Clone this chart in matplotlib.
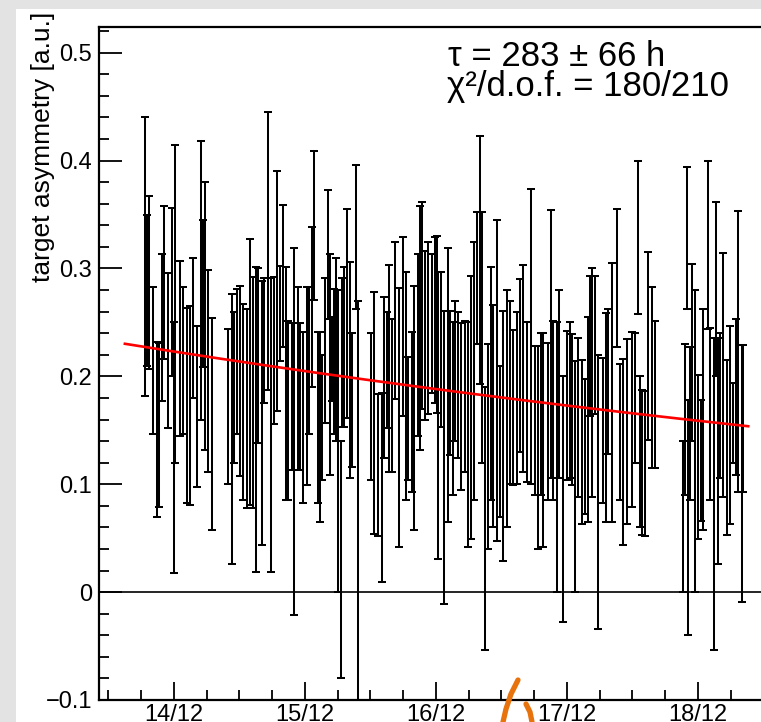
import numpy as np
import matplotlib
matplotlib.use('Agg')
import matplotlib.pyplot as plt
from matplotlib.ticker import MultipleLocator, FixedLocator
from matplotlib.lines import Line2D
from matplotlib.patches import Rectangle

plt.rcParams['font.family'] = ['Liberation Sans', 'DejaVu Sans']

# time in hours relative to 14/12 00:00
hours = [
    # block 1
    -5.3, -4.9, -4.6, -3.8, -3.1, -2.7, -2.2, -1.8, -1.1, -0.4, 0.0, 0.2, 1.1, 1.6,
    2.4, 2.9, 3.5, 4.2, 4.9, 5.3, 5.7, 6.2, 7.0,
    # block 2
    9.9, 10.6, 11.0, 11.5, 12.1, 12.6, 13.4, 13.9, 14.5, 15.0, 15.4, 16.1, 16.5, 17.2,
    17.8, 18.3, 18.9, 19.4, 20.0, 20.5, 20.9, 21.6, 22.0, 22.7, 23.1, 23.6, 24.4, 24.7,
    25.3, 25.6, 26.4, 26.7, 27.1, 27.7, 28.2, 28.6, 28.9, 29.3, 29.7, 30.0, 30.6, 30.8,
    31.1, 31.7, 32.2, 32.6, 33.3, 33.7,
    # block 3
    36.1, 36.6, 37.4, 38.1, 38.5, 39.0, 39.4, 39.9, 40.5, 41.2, 42.0, 42.5, 42.9, 43.6,
    44.0, 44.7, 45.1, 45.4, 46.0, 46.5, 47.3, 47.8, 48.2, 48.4, 48.9, 49.5, 50.2, 50.6,
    51.1, 51.5, 52.0, 52.6, 53.3, 53.9, 54.4, 55.0, 55.5, 56.1, 56.4, 57.0, 57.5, 58.1,
    58.4, 59.2, 59.7, 60.3, 61.0, 61.6, 62.1, 62.8, 63.4, 63.9, 64.7, 65.4, 66.1, 66.7,
    67.2, 67.6, 68.5, 69.1, 69.4, 70.2, 70.5, 71.3, 72.0, 72.6, 72.9, 73.5, 74.0, 74.7,
    75.3, 75.8, 76.2, 76.6, 77.1, 77.7, 78.6, 79.1, 79.5, 80.2, 81.2, 81.7, 82.3, 83.0,
    83.9, 84.5, 85.0, 85.4, 85.7, 86.3, 86.8, 87.6, 88.1,
    # block 4
    93.3, 93.6, 94.0, 94.2, 94.5, 94.9, 95.5, 96.0, 96.6, 96.9, 97.8, 98.2, 98.9, 99.3,
    99.7, 100.0, 100.6, 101.3, 101.9, 102.4, 103.0, 103.3, 104.1, 104.2,
]

asym = [
    0.311, 0.280, 0.287, 0.215, 0.151, 0.155, 0.245, 0.287, 0.224, 0.278, 0.134, 0.267, 0.226, 0.215,
    0.173, 0.173, 0.245, 0.172, 0.289, 0.277, 0.256, 0.205, 0.156,
    0.172, 0.151, 0.190, 0.214, 0.196, 0.176, 0.170, 0.204, 0.185, 0.160, 0.219, 0.166, 0.233, 0.316,
    0.155, 0.224, 0.279, 0.258, 0.293, 0.193, 0.168, 0.181, 0.149, 0.198, 0.181, 0.162, 0.191, 0.215,
    0.264, 0.340, 0.162, 0.153, 0.162, 0.224, 0.313, 0.211, 0.216, 0.214, 0.225, 0.140, 0.030, 0.222,
    0.227, 0.258, 0.206, 0.178, 0.329, 0.070,
    0.172, 0.166, 0.118, 0.097, 0.199, 0.206, 0.207, 0.182, 0.252, 0.162, 0.246, 0.191, 0.161, 0.167,
    0.171, 0.229, 0.245, 0.266, 0.238, 0.245, 0.249, 0.252, 0.248, 0.164, 0.225, 0.125, 0.192, 0.194,
    0.170, 0.205, 0.192, 0.172, 0.181, 0.146, 0.171, 0.205, 0.291, 0.308, 0.236, 0.068, 0.135, 0.193,
    0.163, 0.196, 0.140, 0.145, 0.170, 0.185, 0.171, 0.180, 0.210, 0.207, 0.176, 0.237, 0.159, 0.134,
    0.165, 0.141, 0.158, 0.230, 0.168, 0.125, 0.193, 0.086, 0.173, 0.178, 0.169, 0.107, 0.162, 0.139,
    0.135, 0.160, 0.228, 0.194, 0.229, 0.093, 0.150, 0.162, 0.195, 0.185, 0.291, 0.148, 0.130, 0.149,
    0.160, 0.180, 0.329, 0.130, 0.120, 0.119, 0.228, 0.199, 0.183,
    0.070, 0.160, 0.328, 0.069, 0.156, 0.222, 0.140, 0.125, 0.122, 0.160, 0.322, 0.165, 0.091, 0.281,
    0.131, 0.173, 0.201, 0.134, 0.155, 0.157, 0.181, 0.223, 0.110, 0.161,
]

err = [
    0.129, 0.070, 0.080, 0.068, 0.081, 0.076, 0.068, 0.071, 0.072, 0.078, 0.116, 0.147, 0.081, 0.068,
    0.090, 0.092, 0.065, 0.075, 0.129, 0.068, 0.124, 0.094, 0.098,
    0.072, 0.125, 0.070, 0.067, 0.088, 0.091, 0.092, 0.123, 0.107, 0.141, 0.081, 0.122, 0.058, 0.129,
    0.136, 0.068, 0.111, 0.044, 0.066, 0.108, 0.083, 0.068, 0.170, 0.085, 0.068, 0.079, 0.092, 0.068,
    0.074, 0.069, 0.079, 0.088, 0.058, 0.067, 0.060, 0.102, 0.039, 0.067, 0.085, 0.140, 0.110, 0.069,
    0.074, 0.097, 0.100, 0.062, 0.067, 0.200,
    0.068, 0.112, 0.066, 0.088, 0.075, 0.054, 0.096, 0.071, 0.073, 0.120, 0.083, 0.106, 0.057, 0.074,
    0.113, 0.084, 0.113, 0.096, 0.078, 0.080, 0.064, 0.077, 0.082, 0.133, 0.072, 0.136, 0.127, 0.067,
    0.080, 0.065, 0.068, 0.077, 0.070, 0.104, 0.122, 0.120, 0.061, 0.115, 0.116, 0.122, 0.095, 0.108,
    0.103, 0.149, 0.070, 0.116, 0.110, 0.085, 0.072, 0.080, 0.080, 0.096, 0.074, 0.137, 0.069, 0.094,
    0.075, 0.099, 0.073, 0.124, 0.083, 0.125, 0.087, 0.114, 0.069, 0.072, 0.070, 0.107, 0.074, 0.076,
    0.063, 0.095, 0.065, 0.106, 0.064, 0.127, 0.067, 0.097, 0.067, 0.120, 0.064, 0.063, 0.086, 0.086,
    0.081, 0.060, 0.071, 0.070, 0.067, 0.067, 0.087, 0.084, 0.068,
    0.070, 0.070, 0.066, 0.109, 0.071, 0.082, 0.140, 0.076, 0.056, 0.102, 0.078, 0.080, 0.145, 0.081,
    0.105, 0.067, 0.113, 0.081, 0.092, 0.037, 0.072, 0.130, 0.119, 0.068,
]

day_ticks = [0, 24, 48, 72, 96]
day_labels = ['14/12', '15/12', '16/12', '17/12', '18/12']
y_ticks = [-0.1, 0.0, 0.1, 0.2, 0.3, 0.4, 0.5]
y_labels = ['\u22120.1', '0', '0.1', '0.2', '0.3', '0.4', '0.5']

fit_A = 0.223      # amplitude at 14/12 00:00
fit_tau = 283.0    # hours
fit_start, fit_end = -9.0, 105.2

stat_line1 = '\u03c4 = 283 \u00b1 66 h'
stat_line2 = '\u03c7\u00b2/d.o.f. = 180/210'
ylabel = 'target asymmetry [a.u.]'

W, H = 761, 722
fig = plt.figure(figsize=(W / 100, H / 100), dpi=100, facecolor='#e3e3e3')
fig.patches.append(Rectangle((16 / W, 0), 1, 1 - 9 / H, transform=fig.transFigure,
                             facecolor='white', edgecolor='none', zorder=-10))

AX_L, AX_R, AX_T, AX_B = 99, 774.4, 26.5, 700
ax = fig.add_axes([AX_L / W, 1 - AX_B / H, (AX_R - AX_L) / W, (AX_B - AX_T) / H])
ax.set_zorder(2)
ax.set_facecolor('white')
ax.set_xlim(-13.74, 110)
ax.set_ylim(-0.1, 0.5243)

ax.axhline(0, color='black', lw=1.2, zorder=1)
ax.errorbar(hours, asym, yerr=err, fmt='none', ecolor='black', elinewidth=1.45,
            capsize=3.0, capthick=1.45, zorder=2)
t = np.linspace(fit_start, fit_end, 300)
ax.plot(t, fit_A * np.exp(-t / fit_tau), color='red', lw=1.9, zorder=3)

ax.xaxis.set_major_locator(FixedLocator(day_ticks))
ax.set_xticklabels(day_labels)
ax.xaxis.set_minor_locator(MultipleLocator(6))
ax.yaxis.set_major_locator(FixedLocator(y_ticks))
ax.set_yticklabels(y_labels)
ax.yaxis.set_minor_locator(MultipleLocator(0.02))
ax.tick_params(axis='both', which='both', direction='in', top=False, right=False,
               labelsize=17, width=1.3, colors='black')
ax.tick_params(axis='x', which='major', length=13, pad=3)
ax.tick_params(axis='x', which='minor', length=7.2)
ax.tick_params(axis='y', which='major', length=16.5, pad=5)
ax.tick_params(axis='y', which='minor', length=7.2)
for s in ax.spines.values():
    s.set_linewidth(1.6)

def ax_frac(xp, yp):
    return (xp - AX_L) / (AX_R - AX_L), (AX_B - yp) / (AX_B - AX_T)

ax.text(*ax_frac(448, 66), stat_line1, transform=ax.transAxes,
        fontsize=25, ha='left', va='baseline', zorder=5)
ax.text(*ax_frac(447, 96), stat_line2, transform=ax.transAxes,
        fontsize=25, ha='left', va='baseline', zorder=5)
fig.text(43 / W, 1 - 12 / H, ylabel, rotation=90, ha='center', va='top', fontsize=19)

# orange pen stroke at the bottom
def px(xs, ys):
    return [x / W for x in xs], [1 - y / H for y in ys]
sx, sy = px([518, 511, 506, 503], [680, 694, 709, 722])
fig.lines.append(Line2D(sx, sy, transform=fig.transFigure, color='#e8730c', lw=3.8,
                        solid_capstyle='round', zorder=10))
sx, sy = px([526, 530, 532], [704, 712, 722])
fig.lines.append(Line2D(sx, sy, transform=fig.transFigure, color='#e8730c', lw=3.8,
                        solid_capstyle='round', zorder=10))

fig.savefig('out.png', dpi=100, facecolor=fig.get_facecolor())
